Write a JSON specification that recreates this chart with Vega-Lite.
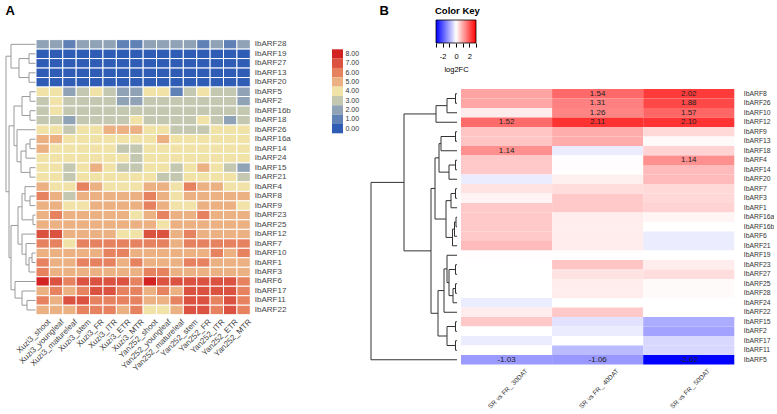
{
"$schema":"https://vega.github.io/schema/vega-lite/v6.json",
"background":"white",
"padding":{"left":5,"top":4,"right":0,"bottom":0},
"config":{"view":{"stroke":null},"font":"Liberation Sans"},
"resolve":{"scale":{"color":"independent"}},
"spacing":11,
"datasets":{
"treeA":[
{"h":7,"y1":1.5,"h1":0,"y2":2.5,"h2":0},
{"h":7,"y1":3.5,"h1":0,"y2":4.5,"h2":0},
{"h":17,"y1":2.0,"h1":7,"y2":4.0,"h2":7},
{"h":25,"y1":0.5,"h1":0,"y2":3.0,"h2":17},
{"h":6,"y1":5.5,"h1":0,"y2":6.5,"h2":0},
{"h":6,"y1":7.5,"h1":0,"y2":8.5,"h2":0},
{"h":14,"y1":6.0,"h1":6,"y2":8.0,"h2":6},
{"h":6,"y1":10.5,"h1":0,"y2":11.5,"h2":0},
{"h":10,"y1":11.0,"h1":6,"y2":12.5,"h2":0},
{"h":6,"y1":13.5,"h1":0,"y2":14.5,"h2":0},
{"h":15,"y1":11.75,"h1":10,"y2":14.0,"h2":6},
{"h":19,"y1":9.5,"h1":0,"y2":12.875,"h2":15},
{"h":22,"y1":7.0,"h1":14,"y2":11.1875,"h2":19},
{"h":6,"y1":16.5,"h1":0,"y2":17.5,"h2":0},
{"h":11,"y1":15.5,"h1":0,"y2":17.0,"h2":6},
{"h":3,"y1":18.5,"h1":0,"y2":19.5,"h2":0},
{"h":14,"y1":16.25,"h1":11,"y2":19.0,"h2":3},
{"h":4,"y1":22.5,"h1":0,"y2":23.5,"h2":0},
{"h":7,"y1":23.0,"h1":4,"y2":24.5,"h2":0},
{"h":10,"y1":21.5,"h1":0,"y2":23.75,"h2":7},
{"h":14,"y1":20.5,"h1":0,"y2":22.625,"h2":10},
{"h":18,"y1":17.625,"h1":14,"y2":21.5625,"h2":14},
{"h":9,"y1":27.5,"h1":0,"y2":28.5,"h2":0},
{"h":14,"y1":26.5,"h1":0,"y2":28.0,"h2":9},
{"h":21,"y1":25.5,"h1":0,"y2":27.25,"h2":14},
{"h":25,"y1":19.594,"h1":18,"y2":26.375,"h2":21},
{"h":27,"y1":9.094,"h1":22,"y2":22.984,"h2":25},
{"h":30,"y1":1.75,"h1":25,"y2":16.039,"h2":27}
],
"treeB":[
{"h":1.5,"y1":0.5,"h1":0,"y2":1.5,"h2":0},
{"h":10,"y1":1.0,"h1":1.5,"y2":2.5,"h2":0},
{"h":21,"y1":1.75,"h1":10,"y2":3.5,"h2":0},
{"h":1.5,"y1":4.5,"h1":0,"y2":5.5,"h2":0},
{"h":16,"y1":5.0,"h1":1.5,"y2":6.5,"h2":0},
{"h":1.5,"y1":7.5,"h1":0,"y2":8.5,"h2":0},
{"h":8,"y1":8.0,"h1":1.5,"y2":9.5,"h2":0},
{"h":18,"y1":5.75,"h1":16,"y2":8.75,"h2":8},
{"h":1.5,"y1":10.5,"h1":0,"y2":11.5,"h2":0},
{"h":6,"y1":11.0,"h1":1.5,"y2":12.5,"h2":0},
{"h":1,"y1":13.5,"h1":0,"y2":14.5,"h2":0},
{"h":2.5,"y1":14.0,"h1":1,"y2":15.5,"h2":0},
{"h":4.5,"y1":14.75,"h1":2.5,"y2":16.5,"h2":0},
{"h":11,"y1":11.75,"h1":6,"y2":15.625,"h2":4.5},
{"h":22,"y1":7.25,"h1":18,"y2":13.6875,"h2":11},
{"h":1.5,"y1":18.5,"h1":0,"y2":19.5,"h2":0},
{"h":1.5,"y1":20.5,"h1":0,"y2":21.5,"h2":0},
{"h":4,"y1":21.0,"h1":1.5,"y2":22.5,"h2":0},
{"h":8,"y1":19.0,"h1":1.5,"y2":21.75,"h2":4},
{"h":10,"y1":17.5,"h1":0,"y2":20.375,"h2":8},
{"h":13,"y1":18.9375,"h1":10,"y2":23.5,"h2":0},
{"h":1.5,"y1":24.5,"h1":0,"y2":25.5,"h2":0},
{"h":1.5,"y1":26.5,"h1":0,"y2":27.5,"h2":0},
{"h":10,"y1":25.0,"h1":1.5,"y2":27.0,"h2":1.5},
{"h":19,"y1":21.219,"h1":13,"y2":26.0,"h2":10},
{"h":26,"y1":10.469,"h1":22,"y2":23.609,"h2":19},
{"h":53,"y1":2.625,"h1":21,"y2":17.039,"h2":26},
{"h":86,"y1":9.832,"h1":53,"y2":28.5,"h2":0}
],
"legA":[{"lev":8},{"lev":7},{"lev":6},{"lev":5},{"lev":4},{"lev":3},{"lev":2},{"lev":1},{"lev":0}],
"fcB":[
{"gene":"IbARF8","cmp":"SR vs FR_ 30DAT","fc":0.95},{"gene":"IbARF8","cmp":"SR vs FR_ 40DAT","fc":1.54},{"gene":"IbARF8","cmp":"SR vs FR_ 50DAT","fc":2.02},
{"gene":"IbARF26","cmp":"SR vs FR_ 30DAT","fc":0.9},{"gene":"IbARF26","cmp":"SR vs FR_ 40DAT","fc":1.31},{"gene":"IbARF26","cmp":"SR vs FR_ 50DAT","fc":1.88},
{"gene":"IbARF10","cmp":"SR vs FR_ 30DAT","fc":0.2},{"gene":"IbARF10","cmp":"SR vs FR_ 40DAT","fc":1.26},{"gene":"IbARF10","cmp":"SR vs FR_ 50DAT","fc":1.57},
{"gene":"IbARF12","cmp":"SR vs FR_ 30DAT","fc":1.52},{"gene":"IbARF12","cmp":"SR vs FR_ 40DAT","fc":2.11},{"gene":"IbARF12","cmp":"SR vs FR_ 50DAT","fc":2.10},
{"gene":"IbARF9","cmp":"SR vs FR_ 30DAT","fc":0.6},{"gene":"IbARF9","cmp":"SR vs FR_ 40DAT","fc":0.85},{"gene":"IbARF9","cmp":"SR vs FR_ 50DAT","fc":0.4},
{"gene":"IbARF13","cmp":"SR vs FR_ 30DAT","fc":0.6},{"gene":"IbARF13","cmp":"SR vs FR_ 40DAT","fc":0.85},{"gene":"IbARF13","cmp":"SR vs FR_ 50DAT","fc":0.05},
{"gene":"IbARF18","cmp":"SR vs FR_ 30DAT","fc":1.14},{"gene":"IbARF18","cmp":"SR vs FR_ 40DAT","fc":-0.2},{"gene":"IbARF18","cmp":"SR vs FR_ 50DAT","fc":0.45},
{"gene":"IbARF4","cmp":"SR vs FR_ 30DAT","fc":0.55},{"gene":"IbARF4","cmp":"SR vs FR_ 40DAT","fc":0.02},{"gene":"IbARF4","cmp":"SR vs FR_ 50DAT","fc":1.14},
{"gene":"IbARF14","cmp":"SR vs FR_ 30DAT","fc":0.55},{"gene":"IbARF14","cmp":"SR vs FR_ 40DAT","fc":0.02},{"gene":"IbARF14","cmp":"SR vs FR_ 50DAT","fc":0.7},
{"gene":"IbARF20","cmp":"SR vs FR_ 30DAT","fc":-0.2},{"gene":"IbARF20","cmp":"SR vs FR_ 40DAT","fc":0.15},{"gene":"IbARF20","cmp":"SR vs FR_ 50DAT","fc":0.7},
{"gene":"IbARF7","cmp":"SR vs FR_ 30DAT","fc":0.3},{"gene":"IbARF7","cmp":"SR vs FR_ 40DAT","fc":0.35},{"gene":"IbARF7","cmp":"SR vs FR_ 50DAT","fc":0.4},
{"gene":"IbARF3","cmp":"SR vs FR_ 30DAT","fc":0.12},{"gene":"IbARF3","cmp":"SR vs FR_ 40DAT","fc":0.55},{"gene":"IbARF3","cmp":"SR vs FR_ 50DAT","fc":0.4},
{"gene":"IbARF1","cmp":"SR vs FR_ 30DAT","fc":0.55},{"gene":"IbARF1","cmp":"SR vs FR_ 40DAT","fc":0.55},{"gene":"IbARF1","cmp":"SR vs FR_ 50DAT","fc":0.45},
{"gene":"IbARF16a","cmp":"SR vs FR_ 30DAT","fc":0.55},{"gene":"IbARF16a","cmp":"SR vs FR_ 40DAT","fc":0.2},{"gene":"IbARF16a","cmp":"SR vs FR_ 50DAT","fc":0.1},
{"gene":"IbARF16b","cmp":"SR vs FR_ 30DAT","fc":0.55},{"gene":"IbARF16b","cmp":"SR vs FR_ 40DAT","fc":0.2},{"gene":"IbARF16b","cmp":"SR vs FR_ 50DAT","fc":0.0},
{"gene":"IbARF6","cmp":"SR vs FR_ 30DAT","fc":0.55},{"gene":"IbARF6","cmp":"SR vs FR_ 40DAT","fc":0.2},{"gene":"IbARF6","cmp":"SR vs FR_ 50DAT","fc":-0.2},
{"gene":"IbARF21","cmp":"SR vs FR_ 30DAT","fc":0.7},{"gene":"IbARF21","cmp":"SR vs FR_ 40DAT","fc":0.2},{"gene":"IbARF21","cmp":"SR vs FR_ 50DAT","fc":-0.2},
{"gene":"IbARF19","cmp":"SR vs FR_ 30DAT","fc":0.02},{"gene":"IbARF19","cmp":"SR vs FR_ 40DAT","fc":0.02},{"gene":"IbARF19","cmp":"SR vs FR_ 50DAT","fc":0.0},
{"gene":"IbARF23","cmp":"SR vs FR_ 30DAT","fc":0.0},{"gene":"IbARF23","cmp":"SR vs FR_ 40DAT","fc":0.6},{"gene":"IbARF23","cmp":"SR vs FR_ 50DAT","fc":0.2},
{"gene":"IbARF27","cmp":"SR vs FR_ 30DAT","fc":0.0},{"gene":"IbARF27","cmp":"SR vs FR_ 40DAT","fc":0.3},{"gene":"IbARF27","cmp":"SR vs FR_ 50DAT","fc":0.35},
{"gene":"IbARF25","cmp":"SR vs FR_ 30DAT","fc":0.0},{"gene":"IbARF25","cmp":"SR vs FR_ 40DAT","fc":0.2},{"gene":"IbARF25","cmp":"SR vs FR_ 50DAT","fc":0.05},
{"gene":"IbARF28","cmp":"SR vs FR_ 30DAT","fc":0.0},{"gene":"IbARF28","cmp":"SR vs FR_ 40DAT","fc":0.2},{"gene":"IbARF28","cmp":"SR vs FR_ 50DAT","fc":0.05},
{"gene":"IbARF24","cmp":"SR vs FR_ 30DAT","fc":-0.2},{"gene":"IbARF24","cmp":"SR vs FR_ 40DAT","fc":0.0},{"gene":"IbARF24","cmp":"SR vs FR_ 50DAT","fc":0.0},
{"gene":"IbARF22","cmp":"SR vs FR_ 30DAT","fc":0.2},{"gene":"IbARF22","cmp":"SR vs FR_ 40DAT","fc":0.55},{"gene":"IbARF22","cmp":"SR vs FR_ 50DAT","fc":0.0},
{"gene":"IbARF15","cmp":"SR vs FR_ 30DAT","fc":0.55},{"gene":"IbARF15","cmp":"SR vs FR_ 40DAT","fc":-0.3},{"gene":"IbARF15","cmp":"SR vs FR_ 50DAT","fc":-0.85},
{"gene":"IbARF2","cmp":"SR vs FR_ 30DAT","fc":0.0},{"gene":"IbARF2","cmp":"SR vs FR_ 40DAT","fc":-0.2},{"gene":"IbARF2","cmp":"SR vs FR_ 50DAT","fc":-0.95},
{"gene":"IbARF17","cmp":"SR vs FR_ 30DAT","fc":-0.2},{"gene":"IbARF17","cmp":"SR vs FR_ 40DAT","fc":0.0},{"gene":"IbARF17","cmp":"SR vs FR_ 50DAT","fc":-0.4},
{"gene":"IbARF11","cmp":"SR vs FR_ 30DAT","fc":0.0},{"gene":"IbARF11","cmp":"SR vs FR_ 40DAT","fc":-0.7},{"gene":"IbARF11","cmp":"SR vs FR_ 50DAT","fc":-0.4},
{"gene":"IbARF5","cmp":"SR vs FR_ 30DAT","fc":-1.03},{"gene":"IbARF5","cmp":"SR vs FR_ 40DAT","fc":-1.06},{"gene":"IbARF5","cmp":"SR vs FR_ 50DAT","fc":-2.62}
],
"exprA":[
{"gene":"IbARF28","tissue":"Xuzi3_shoot","v":2},{"gene":"IbARF28","tissue":"Xuzi3_youngleaf","v":2},{"gene":"IbARF28","tissue":"Xuzi3_matureleaf","v":1},{"gene":"IbARF28","tissue":"Xuzi3_stem","v":2},{"gene":"IbARF28","tissue":"Xuzi3_FR","v":2},{"gene":"IbARF28","tissue":"Xuzi3_ITR","v":2},{"gene":"IbARF28","tissue":"Xuzi3_ETR","v":1},{"gene":"IbARF28","tissue":"Xuzi3_MTR","v":1},{"gene":"IbARF28","tissue":"Yan252_shoot","v":2},{"gene":"IbARF28","tissue":"Yan252_youngleaf","v":2},{"gene":"IbARF28","tissue":"Yan252_matureleaf","v":2},{"gene":"IbARF28","tissue":"Yan252_stem","v":2},{"gene":"IbARF28","tissue":"Yan252_FR","v":1},{"gene":"IbARF28","tissue":"Yan252_ITR","v":2},{"gene":"IbARF28","tissue":"Yan252_ETR","v":1},{"gene":"IbARF28","tissue":"Yan252_MTR","v":2},
{"gene":"IbARF19","tissue":"Xuzi3_shoot","v":0.2},{"gene":"IbARF19","tissue":"Xuzi3_youngleaf","v":0.2},{"gene":"IbARF19","tissue":"Xuzi3_matureleaf","v":0.2},{"gene":"IbARF19","tissue":"Xuzi3_stem","v":0.2},{"gene":"IbARF19","tissue":"Xuzi3_FR","v":0.2},{"gene":"IbARF19","tissue":"Xuzi3_ITR","v":0.2},{"gene":"IbARF19","tissue":"Xuzi3_ETR","v":0.2},{"gene":"IbARF19","tissue":"Xuzi3_MTR","v":0.2},{"gene":"IbARF19","tissue":"Yan252_shoot","v":0.2},{"gene":"IbARF19","tissue":"Yan252_youngleaf","v":0.2},{"gene":"IbARF19","tissue":"Yan252_matureleaf","v":0.2},{"gene":"IbARF19","tissue":"Yan252_stem","v":0.2},{"gene":"IbARF19","tissue":"Yan252_FR","v":0.2},{"gene":"IbARF19","tissue":"Yan252_ITR","v":0.2},{"gene":"IbARF19","tissue":"Yan252_ETR","v":0.2},{"gene":"IbARF19","tissue":"Yan252_MTR","v":0.2},
{"gene":"IbARF27","tissue":"Xuzi3_shoot","v":0.2},{"gene":"IbARF27","tissue":"Xuzi3_youngleaf","v":0.2},{"gene":"IbARF27","tissue":"Xuzi3_matureleaf","v":0.2},{"gene":"IbARF27","tissue":"Xuzi3_stem","v":0.2},{"gene":"IbARF27","tissue":"Xuzi3_FR","v":0.2},{"gene":"IbARF27","tissue":"Xuzi3_ITR","v":0.2},{"gene":"IbARF27","tissue":"Xuzi3_ETR","v":0.2},{"gene":"IbARF27","tissue":"Xuzi3_MTR","v":0.2},{"gene":"IbARF27","tissue":"Yan252_shoot","v":0.2},{"gene":"IbARF27","tissue":"Yan252_youngleaf","v":0.2},{"gene":"IbARF27","tissue":"Yan252_matureleaf","v":0.2},{"gene":"IbARF27","tissue":"Yan252_stem","v":0.2},{"gene":"IbARF27","tissue":"Yan252_FR","v":0.2},{"gene":"IbARF27","tissue":"Yan252_ITR","v":0.2},{"gene":"IbARF27","tissue":"Yan252_ETR","v":0.2},{"gene":"IbARF27","tissue":"Yan252_MTR","v":0.2},
{"gene":"IbARF13","tissue":"Xuzi3_shoot","v":0.2},{"gene":"IbARF13","tissue":"Xuzi3_youngleaf","v":0.2},{"gene":"IbARF13","tissue":"Xuzi3_matureleaf","v":0.2},{"gene":"IbARF13","tissue":"Xuzi3_stem","v":0.2},{"gene":"IbARF13","tissue":"Xuzi3_FR","v":0.2},{"gene":"IbARF13","tissue":"Xuzi3_ITR","v":0.2},{"gene":"IbARF13","tissue":"Xuzi3_ETR","v":0.2},{"gene":"IbARF13","tissue":"Xuzi3_MTR","v":0.2},{"gene":"IbARF13","tissue":"Yan252_shoot","v":0.2},{"gene":"IbARF13","tissue":"Yan252_youngleaf","v":0.2},{"gene":"IbARF13","tissue":"Yan252_matureleaf","v":0.2},{"gene":"IbARF13","tissue":"Yan252_stem","v":0.2},{"gene":"IbARF13","tissue":"Yan252_FR","v":0.2},{"gene":"IbARF13","tissue":"Yan252_ITR","v":0.2},{"gene":"IbARF13","tissue":"Yan252_ETR","v":0.2},{"gene":"IbARF13","tissue":"Yan252_MTR","v":0.2},
{"gene":"IbARF20","tissue":"Xuzi3_shoot","v":0.2},{"gene":"IbARF20","tissue":"Xuzi3_youngleaf","v":0.2},{"gene":"IbARF20","tissue":"Xuzi3_matureleaf","v":0.2},{"gene":"IbARF20","tissue":"Xuzi3_stem","v":0.2},{"gene":"IbARF20","tissue":"Xuzi3_FR","v":0.2},{"gene":"IbARF20","tissue":"Xuzi3_ITR","v":0.2},{"gene":"IbARF20","tissue":"Xuzi3_ETR","v":0.2},{"gene":"IbARF20","tissue":"Xuzi3_MTR","v":0.2},{"gene":"IbARF20","tissue":"Yan252_shoot","v":0.2},{"gene":"IbARF20","tissue":"Yan252_youngleaf","v":0.2},{"gene":"IbARF20","tissue":"Yan252_matureleaf","v":0.2},{"gene":"IbARF20","tissue":"Yan252_stem","v":0.2},{"gene":"IbARF20","tissue":"Yan252_FR","v":0.2},{"gene":"IbARF20","tissue":"Yan252_ITR","v":0.2},{"gene":"IbARF20","tissue":"Yan252_ETR","v":0.2},{"gene":"IbARF20","tissue":"Yan252_MTR","v":0.2},
{"gene":"IbARF5","tissue":"Xuzi3_shoot","v":4},{"gene":"IbARF5","tissue":"Xuzi3_youngleaf","v":4},{"gene":"IbARF5","tissue":"Xuzi3_matureleaf","v":2},{"gene":"IbARF5","tissue":"Xuzi3_stem","v":3},{"gene":"IbARF5","tissue":"Xuzi3_FR","v":4},{"gene":"IbARF5","tissue":"Xuzi3_ITR","v":3},{"gene":"IbARF5","tissue":"Xuzi3_ETR","v":2},{"gene":"IbARF5","tissue":"Xuzi3_MTR","v":2},{"gene":"IbARF5","tissue":"Yan252_shoot","v":4},{"gene":"IbARF5","tissue":"Yan252_youngleaf","v":4},{"gene":"IbARF5","tissue":"Yan252_matureleaf","v":1},{"gene":"IbARF5","tissue":"Yan252_stem","v":3},{"gene":"IbARF5","tissue":"Yan252_FR","v":4},{"gene":"IbARF5","tissue":"Yan252_ITR","v":3},{"gene":"IbARF5","tissue":"Yan252_ETR","v":3},{"gene":"IbARF5","tissue":"Yan252_MTR","v":2},
{"gene":"IbARF2","tissue":"Xuzi3_shoot","v":3},{"gene":"IbARF2","tissue":"Xuzi3_youngleaf","v":4},{"gene":"IbARF2","tissue":"Xuzi3_matureleaf","v":3},{"gene":"IbARF2","tissue":"Xuzi3_stem","v":3},{"gene":"IbARF2","tissue":"Xuzi3_FR","v":3},{"gene":"IbARF2","tissue":"Xuzi3_ITR","v":3},{"gene":"IbARF2","tissue":"Xuzi3_ETR","v":2},{"gene":"IbARF2","tissue":"Xuzi3_MTR","v":2},{"gene":"IbARF2","tissue":"Yan252_shoot","v":3},{"gene":"IbARF2","tissue":"Yan252_youngleaf","v":3},{"gene":"IbARF2","tissue":"Yan252_matureleaf","v":3},{"gene":"IbARF2","tissue":"Yan252_stem","v":3},{"gene":"IbARF2","tissue":"Yan252_FR","v":3},{"gene":"IbARF2","tissue":"Yan252_ITR","v":3},{"gene":"IbARF2","tissue":"Yan252_ETR","v":3},{"gene":"IbARF2","tissue":"Yan252_MTR","v":2},
{"gene":"IbARF16b","tissue":"Xuzi3_shoot","v":3},{"gene":"IbARF16b","tissue":"Xuzi3_youngleaf","v":4},{"gene":"IbARF16b","tissue":"Xuzi3_matureleaf","v":3},{"gene":"IbARF16b","tissue":"Xuzi3_stem","v":3},{"gene":"IbARF16b","tissue":"Xuzi3_FR","v":3},{"gene":"IbARF16b","tissue":"Xuzi3_ITR","v":3},{"gene":"IbARF16b","tissue":"Xuzi3_ETR","v":3},{"gene":"IbARF16b","tissue":"Xuzi3_MTR","v":3},{"gene":"IbARF16b","tissue":"Yan252_shoot","v":3},{"gene":"IbARF16b","tissue":"Yan252_youngleaf","v":3},{"gene":"IbARF16b","tissue":"Yan252_matureleaf","v":3},{"gene":"IbARF16b","tissue":"Yan252_stem","v":3},{"gene":"IbARF16b","tissue":"Yan252_FR","v":3},{"gene":"IbARF16b","tissue":"Yan252_ITR","v":3},{"gene":"IbARF16b","tissue":"Yan252_ETR","v":3},{"gene":"IbARF16b","tissue":"Yan252_MTR","v":3},
{"gene":"IbARF18","tissue":"Xuzi3_shoot","v":3},{"gene":"IbARF18","tissue":"Xuzi3_youngleaf","v":3},{"gene":"IbARF18","tissue":"Xuzi3_matureleaf","v":2},{"gene":"IbARF18","tissue":"Xuzi3_stem","v":3},{"gene":"IbARF18","tissue":"Xuzi3_FR","v":3},{"gene":"IbARF18","tissue":"Xuzi3_ITR","v":3},{"gene":"IbARF18","tissue":"Xuzi3_ETR","v":3},{"gene":"IbARF18","tissue":"Xuzi3_MTR","v":4},{"gene":"IbARF18","tissue":"Yan252_shoot","v":3},{"gene":"IbARF18","tissue":"Yan252_youngleaf","v":3},{"gene":"IbARF18","tissue":"Yan252_matureleaf","v":3},{"gene":"IbARF18","tissue":"Yan252_stem","v":3},{"gene":"IbARF18","tissue":"Yan252_FR","v":4},{"gene":"IbARF18","tissue":"Yan252_ITR","v":3},{"gene":"IbARF18","tissue":"Yan252_ETR","v":2},{"gene":"IbARF18","tissue":"Yan252_MTR","v":3},
{"gene":"IbARF26","tissue":"Xuzi3_shoot","v":4},{"gene":"IbARF26","tissue":"Xuzi3_youngleaf","v":4},{"gene":"IbARF26","tissue":"Xuzi3_matureleaf","v":3},{"gene":"IbARF26","tissue":"Xuzi3_stem","v":4},{"gene":"IbARF26","tissue":"Xuzi3_FR","v":4},{"gene":"IbARF26","tissue":"Xuzi3_ITR","v":5},{"gene":"IbARF26","tissue":"Xuzi3_ETR","v":5},{"gene":"IbARF26","tissue":"Xuzi3_MTR","v":5},{"gene":"IbARF26","tissue":"Yan252_shoot","v":4},{"gene":"IbARF26","tissue":"Yan252_youngleaf","v":4},{"gene":"IbARF26","tissue":"Yan252_matureleaf","v":3},{"gene":"IbARF26","tissue":"Yan252_stem","v":3},{"gene":"IbARF26","tissue":"Yan252_FR","v":3},{"gene":"IbARF26","tissue":"Yan252_ITR","v":4},{"gene":"IbARF26","tissue":"Yan252_ETR","v":4},{"gene":"IbARF26","tissue":"Yan252_MTR","v":4},
{"gene":"IbARF16a","tissue":"Xuzi3_shoot","v":5},{"gene":"IbARF16a","tissue":"Xuzi3_youngleaf","v":5},{"gene":"IbARF16a","tissue":"Xuzi3_matureleaf","v":4},{"gene":"IbARF16a","tissue":"Xuzi3_stem","v":4},{"gene":"IbARF16a","tissue":"Xuzi3_FR","v":4},{"gene":"IbARF16a","tissue":"Xuzi3_ITR","v":4},{"gene":"IbARF16a","tissue":"Xuzi3_ETR","v":4},{"gene":"IbARF16a","tissue":"Xuzi3_MTR","v":4},{"gene":"IbARF16a","tissue":"Yan252_shoot","v":4},{"gene":"IbARF16a","tissue":"Yan252_youngleaf","v":5},{"gene":"IbARF16a","tissue":"Yan252_matureleaf","v":4},{"gene":"IbARF16a","tissue":"Yan252_stem","v":4},{"gene":"IbARF16a","tissue":"Yan252_FR","v":4},{"gene":"IbARF16a","tissue":"Yan252_ITR","v":4},{"gene":"IbARF16a","tissue":"Yan252_ETR","v":4},{"gene":"IbARF16a","tissue":"Yan252_MTR","v":4},
{"gene":"IbARF14","tissue":"Xuzi3_shoot","v":5},{"gene":"IbARF14","tissue":"Xuzi3_youngleaf","v":4},{"gene":"IbARF14","tissue":"Xuzi3_matureleaf","v":4},{"gene":"IbARF14","tissue":"Xuzi3_stem","v":4},{"gene":"IbARF14","tissue":"Xuzi3_FR","v":4},{"gene":"IbARF14","tissue":"Xuzi3_ITR","v":4},{"gene":"IbARF14","tissue":"Xuzi3_ETR","v":3},{"gene":"IbARF14","tissue":"Xuzi3_MTR","v":3},{"gene":"IbARF14","tissue":"Yan252_shoot","v":4},{"gene":"IbARF14","tissue":"Yan252_youngleaf","v":4},{"gene":"IbARF14","tissue":"Yan252_matureleaf","v":4},{"gene":"IbARF14","tissue":"Yan252_stem","v":4},{"gene":"IbARF14","tissue":"Yan252_FR","v":4},{"gene":"IbARF14","tissue":"Yan252_ITR","v":4},{"gene":"IbARF14","tissue":"Yan252_ETR","v":4},{"gene":"IbARF14","tissue":"Yan252_MTR","v":4},
{"gene":"IbARF24","tissue":"Xuzi3_shoot","v":4},{"gene":"IbARF24","tissue":"Xuzi3_youngleaf","v":4},{"gene":"IbARF24","tissue":"Xuzi3_matureleaf","v":4},{"gene":"IbARF24","tissue":"Xuzi3_stem","v":4},{"gene":"IbARF24","tissue":"Xuzi3_FR","v":4},{"gene":"IbARF24","tissue":"Xuzi3_ITR","v":4},{"gene":"IbARF24","tissue":"Xuzi3_ETR","v":4},{"gene":"IbARF24","tissue":"Xuzi3_MTR","v":3},{"gene":"IbARF24","tissue":"Yan252_shoot","v":4},{"gene":"IbARF24","tissue":"Yan252_youngleaf","v":4},{"gene":"IbARF24","tissue":"Yan252_matureleaf","v":4},{"gene":"IbARF24","tissue":"Yan252_stem","v":4},{"gene":"IbARF24","tissue":"Yan252_FR","v":4},{"gene":"IbARF24","tissue":"Yan252_ITR","v":4},{"gene":"IbARF24","tissue":"Yan252_ETR","v":4},{"gene":"IbARF24","tissue":"Yan252_MTR","v":4},
{"gene":"IbARF15","tissue":"Xuzi3_shoot","v":4},{"gene":"IbARF15","tissue":"Xuzi3_youngleaf","v":4},{"gene":"IbARF15","tissue":"Xuzi3_matureleaf","v":3},{"gene":"IbARF15","tissue":"Xuzi3_stem","v":4},{"gene":"IbARF15","tissue":"Xuzi3_FR","v":5},{"gene":"IbARF15","tissue":"Xuzi3_ITR","v":4},{"gene":"IbARF15","tissue":"Xuzi3_ETR","v":3},{"gene":"IbARF15","tissue":"Xuzi3_MTR","v":3},{"gene":"IbARF15","tissue":"Yan252_shoot","v":4},{"gene":"IbARF15","tissue":"Yan252_youngleaf","v":4},{"gene":"IbARF15","tissue":"Yan252_matureleaf","v":3},{"gene":"IbARF15","tissue":"Yan252_stem","v":4},{"gene":"IbARF15","tissue":"Yan252_FR","v":5},{"gene":"IbARF15","tissue":"Yan252_ITR","v":4},{"gene":"IbARF15","tissue":"Yan252_ETR","v":3},{"gene":"IbARF15","tissue":"Yan252_MTR","v":2},
{"gene":"IbARF21","tissue":"Xuzi3_shoot","v":4},{"gene":"IbARF21","tissue":"Xuzi3_youngleaf","v":4},{"gene":"IbARF21","tissue":"Xuzi3_matureleaf","v":3},{"gene":"IbARF21","tissue":"Xuzi3_stem","v":4},{"gene":"IbARF21","tissue":"Xuzi3_FR","v":4},{"gene":"IbARF21","tissue":"Xuzi3_ITR","v":4},{"gene":"IbARF21","tissue":"Xuzi3_ETR","v":4},{"gene":"IbARF21","tissue":"Xuzi3_MTR","v":4},{"gene":"IbARF21","tissue":"Yan252_shoot","v":4},{"gene":"IbARF21","tissue":"Yan252_youngleaf","v":3},{"gene":"IbARF21","tissue":"Yan252_matureleaf","v":3},{"gene":"IbARF21","tissue":"Yan252_stem","v":4},{"gene":"IbARF21","tissue":"Yan252_FR","v":4},{"gene":"IbARF21","tissue":"Yan252_ITR","v":4},{"gene":"IbARF21","tissue":"Yan252_ETR","v":4},{"gene":"IbARF21","tissue":"Yan252_MTR","v":3},
{"gene":"IbARF4","tissue":"Xuzi3_shoot","v":5},{"gene":"IbARF4","tissue":"Xuzi3_youngleaf","v":4},{"gene":"IbARF4","tissue":"Xuzi3_matureleaf","v":4},{"gene":"IbARF4","tissue":"Xuzi3_stem","v":6},{"gene":"IbARF4","tissue":"Xuzi3_FR","v":5},{"gene":"IbARF4","tissue":"Xuzi3_ITR","v":4},{"gene":"IbARF4","tissue":"Xuzi3_ETR","v":4},{"gene":"IbARF4","tissue":"Xuzi3_MTR","v":4},{"gene":"IbARF4","tissue":"Yan252_shoot","v":5},{"gene":"IbARF4","tissue":"Yan252_youngleaf","v":5},{"gene":"IbARF4","tissue":"Yan252_matureleaf","v":4},{"gene":"IbARF4","tissue":"Yan252_stem","v":6},{"gene":"IbARF4","tissue":"Yan252_FR","v":5},{"gene":"IbARF4","tissue":"Yan252_ITR","v":5},{"gene":"IbARF4","tissue":"Yan252_ETR","v":4},{"gene":"IbARF4","tissue":"Yan252_MTR","v":4},
{"gene":"IbARF8","tissue":"Xuzi3_shoot","v":6},{"gene":"IbARF8","tissue":"Xuzi3_youngleaf","v":5},{"gene":"IbARF8","tissue":"Xuzi3_matureleaf","v":3},{"gene":"IbARF8","tissue":"Xuzi3_stem","v":5},{"gene":"IbARF8","tissue":"Xuzi3_FR","v":5},{"gene":"IbARF8","tissue":"Xuzi3_ITR","v":5},{"gene":"IbARF8","tissue":"Xuzi3_ETR","v":5},{"gene":"IbARF8","tissue":"Xuzi3_MTR","v":5},{"gene":"IbARF8","tissue":"Yan252_shoot","v":6},{"gene":"IbARF8","tissue":"Yan252_youngleaf","v":5},{"gene":"IbARF8","tissue":"Yan252_matureleaf","v":4},{"gene":"IbARF8","tissue":"Yan252_stem","v":5},{"gene":"IbARF8","tissue":"Yan252_FR","v":5},{"gene":"IbARF8","tissue":"Yan252_ITR","v":5},{"gene":"IbARF8","tissue":"Yan252_ETR","v":5},{"gene":"IbARF8","tissue":"Yan252_MTR","v":5},
{"gene":"IbARF9","tissue":"Xuzi3_shoot","v":5},{"gene":"IbARF9","tissue":"Xuzi3_youngleaf","v":5},{"gene":"IbARF9","tissue":"Xuzi3_matureleaf","v":4},{"gene":"IbARF9","tissue":"Xuzi3_stem","v":4},{"gene":"IbARF9","tissue":"Xuzi3_FR","v":5},{"gene":"IbARF9","tissue":"Xuzi3_ITR","v":5},{"gene":"IbARF9","tissue":"Xuzi3_ETR","v":5},{"gene":"IbARF9","tissue":"Xuzi3_MTR","v":5},{"gene":"IbARF9","tissue":"Yan252_shoot","v":6},{"gene":"IbARF9","tissue":"Yan252_youngleaf","v":5},{"gene":"IbARF9","tissue":"Yan252_matureleaf","v":4},{"gene":"IbARF9","tissue":"Yan252_stem","v":4},{"gene":"IbARF9","tissue":"Yan252_FR","v":5},{"gene":"IbARF9","tissue":"Yan252_ITR","v":5},{"gene":"IbARF9","tissue":"Yan252_ETR","v":5},{"gene":"IbARF9","tissue":"Yan252_MTR","v":4},
{"gene":"IbARF23","tissue":"Xuzi3_shoot","v":5},{"gene":"IbARF23","tissue":"Xuzi3_youngleaf","v":6},{"gene":"IbARF23","tissue":"Xuzi3_matureleaf","v":5},{"gene":"IbARF23","tissue":"Xuzi3_stem","v":5},{"gene":"IbARF23","tissue":"Xuzi3_FR","v":5},{"gene":"IbARF23","tissue":"Xuzi3_ITR","v":5},{"gene":"IbARF23","tissue":"Xuzi3_ETR","v":5},{"gene":"IbARF23","tissue":"Xuzi3_MTR","v":4},{"gene":"IbARF23","tissue":"Yan252_shoot","v":5},{"gene":"IbARF23","tissue":"Yan252_youngleaf","v":6},{"gene":"IbARF23","tissue":"Yan252_matureleaf","v":5},{"gene":"IbARF23","tissue":"Yan252_stem","v":5},{"gene":"IbARF23","tissue":"Yan252_FR","v":6},{"gene":"IbARF23","tissue":"Yan252_ITR","v":5},{"gene":"IbARF23","tissue":"Yan252_ETR","v":5},{"gene":"IbARF23","tissue":"Yan252_MTR","v":5},
{"gene":"IbARF25","tissue":"Xuzi3_shoot","v":5},{"gene":"IbARF25","tissue":"Xuzi3_youngleaf","v":5},{"gene":"IbARF25","tissue":"Xuzi3_matureleaf","v":5},{"gene":"IbARF25","tissue":"Xuzi3_stem","v":5},{"gene":"IbARF25","tissue":"Xuzi3_FR","v":5},{"gene":"IbARF25","tissue":"Xuzi3_ITR","v":5},{"gene":"IbARF25","tissue":"Xuzi3_ETR","v":5},{"gene":"IbARF25","tissue":"Xuzi3_MTR","v":5},{"gene":"IbARF25","tissue":"Yan252_shoot","v":5},{"gene":"IbARF25","tissue":"Yan252_youngleaf","v":4},{"gene":"IbARF25","tissue":"Yan252_matureleaf","v":5},{"gene":"IbARF25","tissue":"Yan252_stem","v":5},{"gene":"IbARF25","tissue":"Yan252_FR","v":5},{"gene":"IbARF25","tissue":"Yan252_ITR","v":5},{"gene":"IbARF25","tissue":"Yan252_ETR","v":5},{"gene":"IbARF25","tissue":"Yan252_MTR","v":5},
{"gene":"IbARF12","tissue":"Xuzi3_shoot","v":7},{"gene":"IbARF12","tissue":"Xuzi3_youngleaf","v":7},{"gene":"IbARF12","tissue":"Xuzi3_matureleaf","v":5},{"gene":"IbARF12","tissue":"Xuzi3_stem","v":5},{"gene":"IbARF12","tissue":"Xuzi3_FR","v":5},{"gene":"IbARF12","tissue":"Xuzi3_ITR","v":5},{"gene":"IbARF12","tissue":"Xuzi3_ETR","v":4},{"gene":"IbARF12","tissue":"Xuzi3_MTR","v":4},{"gene":"IbARF12","tissue":"Yan252_shoot","v":7},{"gene":"IbARF12","tissue":"Yan252_youngleaf","v":7},{"gene":"IbARF12","tissue":"Yan252_matureleaf","v":5},{"gene":"IbARF12","tissue":"Yan252_stem","v":6},{"gene":"IbARF12","tissue":"Yan252_FR","v":5},{"gene":"IbARF12","tissue":"Yan252_ITR","v":5},{"gene":"IbARF12","tissue":"Yan252_ETR","v":5},{"gene":"IbARF12","tissue":"Yan252_MTR","v":5},
{"gene":"IbARF7","tissue":"Xuzi3_shoot","v":6},{"gene":"IbARF7","tissue":"Xuzi3_youngleaf","v":6},{"gene":"IbARF7","tissue":"Xuzi3_matureleaf","v":4},{"gene":"IbARF7","tissue":"Xuzi3_stem","v":6},{"gene":"IbARF7","tissue":"Xuzi3_FR","v":6},{"gene":"IbARF7","tissue":"Xuzi3_ITR","v":6},{"gene":"IbARF7","tissue":"Xuzi3_ETR","v":6},{"gene":"IbARF7","tissue":"Xuzi3_MTR","v":6},{"gene":"IbARF7","tissue":"Yan252_shoot","v":6},{"gene":"IbARF7","tissue":"Yan252_youngleaf","v":6},{"gene":"IbARF7","tissue":"Yan252_matureleaf","v":5},{"gene":"IbARF7","tissue":"Yan252_stem","v":6},{"gene":"IbARF7","tissue":"Yan252_FR","v":6},{"gene":"IbARF7","tissue":"Yan252_ITR","v":6},{"gene":"IbARF7","tissue":"Yan252_ETR","v":6},{"gene":"IbARF7","tissue":"Yan252_MTR","v":6},
{"gene":"IbARF10","tissue":"Xuzi3_shoot","v":5},{"gene":"IbARF10","tissue":"Xuzi3_youngleaf","v":5},{"gene":"IbARF10","tissue":"Xuzi3_matureleaf","v":5},{"gene":"IbARF10","tissue":"Xuzi3_stem","v":5},{"gene":"IbARF10","tissue":"Xuzi3_FR","v":5},{"gene":"IbARF10","tissue":"Xuzi3_ITR","v":6},{"gene":"IbARF10","tissue":"Xuzi3_ETR","v":6},{"gene":"IbARF10","tissue":"Xuzi3_MTR","v":5},{"gene":"IbARF10","tissue":"Yan252_shoot","v":5},{"gene":"IbARF10","tissue":"Yan252_youngleaf","v":5},{"gene":"IbARF10","tissue":"Yan252_matureleaf","v":5},{"gene":"IbARF10","tissue":"Yan252_stem","v":5},{"gene":"IbARF10","tissue":"Yan252_FR","v":5},{"gene":"IbARF10","tissue":"Yan252_ITR","v":6},{"gene":"IbARF10","tissue":"Yan252_ETR","v":5},{"gene":"IbARF10","tissue":"Yan252_MTR","v":6},
{"gene":"IbARF1","tissue":"Xuzi3_shoot","v":6},{"gene":"IbARF1","tissue":"Xuzi3_youngleaf","v":5},{"gene":"IbARF1","tissue":"Xuzi3_matureleaf","v":5},{"gene":"IbARF1","tissue":"Xuzi3_stem","v":6},{"gene":"IbARF1","tissue":"Xuzi3_FR","v":6},{"gene":"IbARF1","tissue":"Xuzi3_ITR","v":6},{"gene":"IbARF1","tissue":"Xuzi3_ETR","v":5},{"gene":"IbARF1","tissue":"Xuzi3_MTR","v":6},{"gene":"IbARF1","tissue":"Yan252_shoot","v":5},{"gene":"IbARF1","tissue":"Yan252_youngleaf","v":5},{"gene":"IbARF1","tissue":"Yan252_matureleaf","v":5},{"gene":"IbARF1","tissue":"Yan252_stem","v":6},{"gene":"IbARF1","tissue":"Yan252_FR","v":6},{"gene":"IbARF1","tissue":"Yan252_ITR","v":5},{"gene":"IbARF1","tissue":"Yan252_ETR","v":5},{"gene":"IbARF1","tissue":"Yan252_MTR","v":5},
{"gene":"IbARF3","tissue":"Xuzi3_shoot","v":6},{"gene":"IbARF3","tissue":"Xuzi3_youngleaf","v":5},{"gene":"IbARF3","tissue":"Xuzi3_matureleaf","v":5},{"gene":"IbARF3","tissue":"Xuzi3_stem","v":5},{"gene":"IbARF3","tissue":"Xuzi3_FR","v":5},{"gene":"IbARF3","tissue":"Xuzi3_ITR","v":5},{"gene":"IbARF3","tissue":"Xuzi3_ETR","v":5},{"gene":"IbARF3","tissue":"Xuzi3_MTR","v":5},{"gene":"IbARF3","tissue":"Yan252_shoot","v":6},{"gene":"IbARF3","tissue":"Yan252_youngleaf","v":6},{"gene":"IbARF3","tissue":"Yan252_matureleaf","v":5},{"gene":"IbARF3","tissue":"Yan252_stem","v":5},{"gene":"IbARF3","tissue":"Yan252_FR","v":5},{"gene":"IbARF3","tissue":"Yan252_ITR","v":5},{"gene":"IbARF3","tissue":"Yan252_ETR","v":5},{"gene":"IbARF3","tissue":"Yan252_MTR","v":5},
{"gene":"IbARF6","tissue":"Xuzi3_shoot","v":8},{"gene":"IbARF6","tissue":"Xuzi3_youngleaf","v":7},{"gene":"IbARF6","tissue":"Xuzi3_matureleaf","v":6},{"gene":"IbARF6","tissue":"Xuzi3_stem","v":7},{"gene":"IbARF6","tissue":"Xuzi3_FR","v":7},{"gene":"IbARF6","tissue":"Xuzi3_ITR","v":7},{"gene":"IbARF6","tissue":"Xuzi3_ETR","v":7},{"gene":"IbARF6","tissue":"Xuzi3_MTR","v":6},{"gene":"IbARF6","tissue":"Yan252_shoot","v":8},{"gene":"IbARF6","tissue":"Yan252_youngleaf","v":7},{"gene":"IbARF6","tissue":"Yan252_matureleaf","v":7},{"gene":"IbARF6","tissue":"Yan252_stem","v":7},{"gene":"IbARF6","tissue":"Yan252_FR","v":7},{"gene":"IbARF6","tissue":"Yan252_ITR","v":7},{"gene":"IbARF6","tissue":"Yan252_ETR","v":7},{"gene":"IbARF6","tissue":"Yan252_MTR","v":6},
{"gene":"IbARF17","tissue":"Xuzi3_shoot","v":5},{"gene":"IbARF17","tissue":"Xuzi3_youngleaf","v":6},{"gene":"IbARF17","tissue":"Xuzi3_matureleaf","v":5},{"gene":"IbARF17","tissue":"Xuzi3_stem","v":6},{"gene":"IbARF17","tissue":"Xuzi3_FR","v":7},{"gene":"IbARF17","tissue":"Xuzi3_ITR","v":7},{"gene":"IbARF17","tissue":"Xuzi3_ETR","v":6},{"gene":"IbARF17","tissue":"Xuzi3_MTR","v":6},{"gene":"IbARF17","tissue":"Yan252_shoot","v":5},{"gene":"IbARF17","tissue":"Yan252_youngleaf","v":6},{"gene":"IbARF17","tissue":"Yan252_matureleaf","v":5},{"gene":"IbARF17","tissue":"Yan252_stem","v":7},{"gene":"IbARF17","tissue":"Yan252_FR","v":7},{"gene":"IbARF17","tissue":"Yan252_ITR","v":7},{"gene":"IbARF17","tissue":"Yan252_ETR","v":7},{"gene":"IbARF17","tissue":"Yan252_MTR","v":6},
{"gene":"IbARF11","tissue":"Xuzi3_shoot","v":6},{"gene":"IbARF11","tissue":"Xuzi3_youngleaf","v":5},{"gene":"IbARF11","tissue":"Xuzi3_matureleaf","v":7},{"gene":"IbARF11","tissue":"Xuzi3_stem","v":7},{"gene":"IbARF11","tissue":"Xuzi3_FR","v":6},{"gene":"IbARF11","tissue":"Xuzi3_ITR","v":6},{"gene":"IbARF11","tissue":"Xuzi3_ETR","v":6},{"gene":"IbARF11","tissue":"Xuzi3_MTR","v":6},{"gene":"IbARF11","tissue":"Yan252_shoot","v":5},{"gene":"IbARF11","tissue":"Yan252_youngleaf","v":5},{"gene":"IbARF11","tissue":"Yan252_matureleaf","v":6},{"gene":"IbARF11","tissue":"Yan252_stem","v":7},{"gene":"IbARF11","tissue":"Yan252_FR","v":7},{"gene":"IbARF11","tissue":"Yan252_ITR","v":6},{"gene":"IbARF11","tissue":"Yan252_ETR","v":7},{"gene":"IbARF11","tissue":"Yan252_MTR","v":6},
{"gene":"IbARF22","tissue":"Xuzi3_shoot","v":5},{"gene":"IbARF22","tissue":"Xuzi3_youngleaf","v":5},{"gene":"IbARF22","tissue":"Xuzi3_matureleaf","v":5},{"gene":"IbARF22","tissue":"Xuzi3_stem","v":6},{"gene":"IbARF22","tissue":"Xuzi3_FR","v":6},{"gene":"IbARF22","tissue":"Xuzi3_ITR","v":6},{"gene":"IbARF22","tissue":"Xuzi3_ETR","v":5},{"gene":"IbARF22","tissue":"Xuzi3_MTR","v":6},{"gene":"IbARF22","tissue":"Yan252_shoot","v":4},{"gene":"IbARF22","tissue":"Yan252_youngleaf","v":4},{"gene":"IbARF22","tissue":"Yan252_matureleaf","v":5},{"gene":"IbARF22","tissue":"Yan252_stem","v":7},{"gene":"IbARF22","tissue":"Yan252_FR","v":7},{"gene":"IbARF22","tissue":"Yan252_ITR","v":6},{"gene":"IbARF22","tissue":"Yan252_ETR","v":7},{"gene":"IbARF22","tissue":"Yan252_MTR","v":6}
]
},
"hconcat":[
{
 "title":{"text":"A","anchor":"start","fontSize":13,"fontWeight":"bold","offset":2,"color":"black"},
 "spacing":41,
 "resolve":{"scale":{"color":"independent"}},
 "hconcat":[
  {
   "spacing":0,
   "bounds":"flush",
   "hconcat":[
    {
     "width":30,"height":294.7,
     "data":{"name":"treeA"},
     "layer":[
      {"mark":{"type":"rule","color":"#9a9a9a","strokeWidth":1},
       "encoding":{
        "x":{"field":"h","type":"quantitative","scale":{"domain":[0,30],"reverse":true,"nice":false,"zero":false},"axis":null},
        "y":{"field":"y1","type":"quantitative","scale":{"domain":[0,29],"range":[19.6,294.7],"nice":false,"zero":false},"axis":null},
        "y2":{"field":"y2"}}},
      {"mark":{"type":"rule","color":"#9a9a9a","strokeWidth":1},
       "encoding":{
        "x":{"field":"h1","type":"quantitative","scale":{"domain":[0,30],"reverse":true,"nice":false,"zero":false},"axis":null},
        "x2":{"field":"h"},
        "y":{"field":"y1","type":"quantitative","scale":{"domain":[0,29],"range":[19.6,294.7],"nice":false,"zero":false},"axis":null}}},
      {"mark":{"type":"rule","color":"#9a9a9a","strokeWidth":1},
       "encoding":{
        "x":{"field":"h2","type":"quantitative","scale":{"domain":[0,30],"reverse":true,"nice":false,"zero":false},"axis":null},
        "x2":{"field":"h"},
        "y":{"field":"y2","type":"quantitative","scale":{"domain":[0,29],"range":[19.6,294.7],"nice":false,"zero":false},"axis":null}}}
     ]
    },
    {
     "width":214.3,"height":294.7,
     "data":{"name":"exprA"},
     "mark":{"type":"rect","stroke":"white","strokeWidth":1},
     "encoding":{
      "x":{"field":"tissue","type":"nominal","scale":{"domain":["Xuzi3_shoot","Xuzi3_youngleaf","Xuzi3_matureleaf","Xuzi3_stem","Xuzi3_FR","Xuzi3_ITR","Xuzi3_ETR","Xuzi3_MTR","Yan252_shoot","Yan252_youngleaf","Yan252_matureleaf","Yan252_stem","Yan252_FR","Yan252_ITR","Yan252_ETR","Yan252_MTR"],"paddingInner":0,"paddingOuter":0},
           "axis":{"orient":"bottom","title":null,"labelAngle":-45,"labelFontSize":8,"labelColor":"#444","ticks":false,"domain":false,"labelPadding":3,"labelOffset":4}},
      "y":{"field":"gene","type":"nominal","scale":{"domain":["IbARF28","IbARF19","IbARF27","IbARF13","IbARF20","IbARF5","IbARF2","IbARF16b","IbARF18","IbARF26","IbARF16a","IbARF14","IbARF24","IbARF15","IbARF21","IbARF4","IbARF8","IbARF9","IbARF23","IbARF25","IbARF12","IbARF7","IbARF10","IbARF1","IbARF3","IbARF6","IbARF17","IbARF11","IbARF22"],"range":[19.6,294.7],"paddingInner":0,"paddingOuter":0},
           "axis":{"orient":"right","title":null,"ticks":false,"domain":false,"labelFontSize":8,"labelColor":"#444","labelPadding":4}},
      "color":{"field":"v","type":"quantitative","scale":{"type":"threshold","domain":[0.5,1.5,2.5,3.5,4.5,5.5,6.5,7.5],"range":["#2f5db6","#5f81b6","#8fa2b6","#c5c8b1","#f1e3a8","#ecb182","#e6825f","#dc5240","#d22222"]},"legend":null}
     }
    }
   ]
  },
  {
   "width":11,"height":120,
   "data":{"name":"legA"},
   "mark":{"type":"rect"},
   "encoding":{
    "y":{"field":"lev","type":"ordinal","scale":{"domain":[8,7,6,5,4,3,2,1,0],"range":[29.3,113.3],"paddingInner":0,"paddingOuter":0},
         "axis":{"orient":"right","title":null,"ticks":false,"domain":false,"labelFontSize":7,"labelColor":"#333","labelPadding":2,"labelExpr":"format(datum.value,'.2f')"}},
    "color":{"field":"lev","type":"quantitative","scale":{"type":"threshold","domain":[0.5,1.5,2.5,3.5,4.5,5.5,6.5,7.5],"range":["#2f5db6","#5f81b6","#8fa2b6","#c5c8b1","#f1e3a8","#ecb182","#e6825f","#dc5240","#d22222"]},"legend":null}
   }
  }
 ]
},
{
 "title":{"text":"B","anchor":"start","fontSize":13,"fontWeight":"bold","offset":0,"dx":9,"dy":11.5,"color":"black"},
 "spacing":16,
 "vconcat":[
  {
   "width":105,"height":23,
   "title":{"text":"Color Key","anchor":"start","dx":64,"fontSize":9.5,"fontWeight":"bold","offset":4,"color":"black"},
   "data":{"values":[{"lo":-3,"hi":3}]},
   "mark":{"type":"rect","stroke":"black","strokeWidth":0.8,"fill":{"gradient":"linear","x1":0,"y1":0,"x2":1,"y2":0,"stops":[{"offset":0,"color":"#0000ff"},{"offset":0.5,"color":"#ffffff"},{"offset":1,"color":"#ff0000"}]}},
   "encoding":{
    "x":{"field":"lo","type":"quantitative","scale":{"domain":[-3,3],"range":[65,105],"nice":false,"zero":false},
         "axis":{"values":[-3,-2,-1,0,1,2,3],"labelExpr":"datum.value % 2 === 0 ? '' + datum.value : ''","title":"log2FC","domain":false,"ticks":true,"tickSize":4,"tickColor":"black","labelFontSize":7.5,"labelColor":"black","labelPadding":5,"titleFontSize":7.5,"titleFontWeight":"normal","titleColor":"black","titlePadding":6,"grid":false,"labelOverlap":false}},
    "x2":{"field":"hi"}
   }
  },
  {
   "spacing":4,
   "bounds":"flush",
   "hconcat":[
    {
     "width":86,"height":275.5,
     "data":{"name":"treeB"},
     "layer":[
      {"mark":{"type":"rule","color":"#333","strokeWidth":1},
       "encoding":{
        "x":{"field":"h","type":"quantitative","scale":{"domain":[0,86],"reverse":true,"nice":false,"zero":false},"axis":null},
        "y":{"field":"y1","type":"quantitative","scale":{"domain":[0,29],"reverse":true,"nice":false,"zero":false},"axis":null},
        "y2":{"field":"y2"}}},
      {"mark":{"type":"rule","color":"#333","strokeWidth":1},
       "encoding":{
        "x":{"field":"h1","type":"quantitative","scale":{"domain":[0,86],"reverse":true,"nice":false,"zero":false},"axis":null},
        "x2":{"field":"h"},
        "y":{"field":"y1","type":"quantitative","scale":{"domain":[0,29],"reverse":true,"nice":false,"zero":false},"axis":null}}},
      {"mark":{"type":"rule","color":"#333","strokeWidth":1},
       "encoding":{
        "x":{"field":"h2","type":"quantitative","scale":{"domain":[0,86],"reverse":true,"nice":false,"zero":false},"axis":null},
        "x2":{"field":"h"},
        "y":{"field":"y2","type":"quantitative","scale":{"domain":[0,29],"reverse":true,"nice":false,"zero":false},"axis":null}}}
     ]
    },
    {
     "width":273.3,"height":275.5,
     "data":{"name":"fcB"},
     "encoding":{
      "x":{"field":"cmp","type":"nominal","scale":{"domain":["SR vs FR_ 30DAT","SR vs FR_ 40DAT","SR vs FR_ 50DAT"],"paddingInner":0,"paddingOuter":0},
           "axis":{"orient":"bottom","title":null,"labelAngle":-45,"labelFontSize":6.5,"labelColor":"#333","ticks":false,"domain":false,"labelPadding":3,"labelOffset":18}},
      "y":{"field":"gene","type":"nominal","scale":{"domain":["IbARF8","IbARF26","IbARF10","IbARF12","IbARF9","IbARF13","IbARF18","IbARF4","IbARF14","IbARF20","IbARF7","IbARF3","IbARF1","IbARF16a","IbARF16b","IbARF6","IbARF21","IbARF19","IbARF23","IbARF27","IbARF25","IbARF28","IbARF24","IbARF22","IbARF15","IbARF2","IbARF17","IbARF11","IbARF5"],"paddingInner":0,"paddingOuter":0},
           "axis":{"orient":"right","title":null,"ticks":false,"domain":false,"labelFontSize":6.8,"labelColor":"#333","labelPadding":9}}
     },
     "layer":[
      {"mark":{"type":"rect"},
       "encoding":{"color":{"field":"fc","type":"quantitative","scale":{"domain":[-2.62,0,2.62],"range":["#0000ff","#ffffff","#ff0000"],"clamp":true,"interpolate":"rgb"},"legend":null}}},
      {"transform":[{"filter":"abs(datum.fc) >= 1"},{"calculate":"replace(format(datum.fc,'.2f'),'\u2212','-')","as":"lbl"}],
       "mark":{"type":"text","fontSize":8,"color":"#222"},
       "encoding":{"text":{"field":"lbl","type":"nominal"}}}
     ]
    }
   ]
  }
 ]
}
]
}
